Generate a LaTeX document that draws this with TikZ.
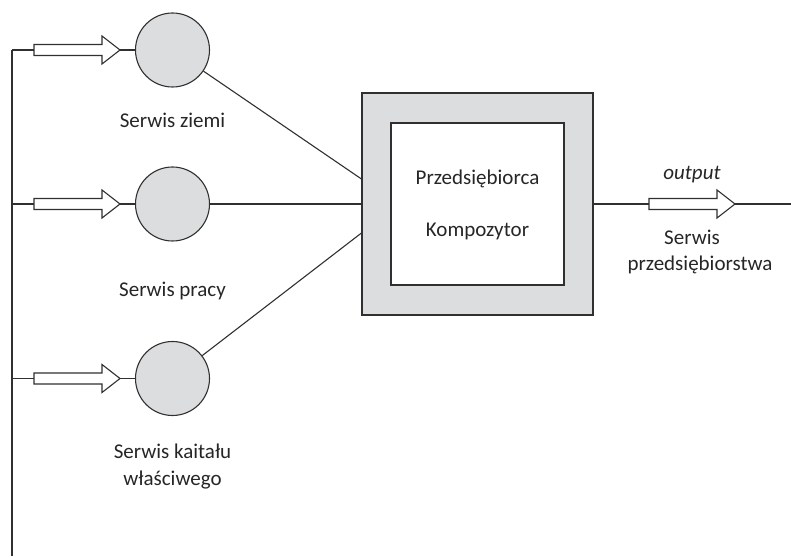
\documentclass[tikz,border=0pt]{standalone}
\usepackage{fontspec}
\setmainfont{Carlito}
\usetikzlibrary{calc}
\definecolor{lgray}{HTML}{DCDDDF}
\definecolor{dline}{HTML}{303030}
\newcommand{\blockarr}[1]{%
  \draw[barrowline] (#1) ++(0,5.5) -- ++(68,0) -- ++(0,8.5) -- ++(18,-14) -- ++(-18,-14) -- ++(0,8.5) -- ++(-68,0) -- cycle;}
\begin{document}
\begin{tikzpicture}[x=1pt,y=1pt,
  conn/.style={draw=dline, line width=1.1pt},
  barrowline/.style={draw=dline, fill=white, line width=1.1pt, line join=miter},
  svc/.style={circle, draw=dline, fill=lgray, line width=1.1pt, minimum size=74pt, inner sep=0pt},
  outerbox/.style={rectangle, draw=dline, fill=lgray, line width=1.1pt, minimum width=231pt, minimum height=222pt, inner sep=0pt},
  innerbox/.style={rectangle, draw=dline, fill=white, line width=1.1pt, minimum width=173pt, minimum height=162pt, inner sep=0pt},
  lbl/.style={font=\fontsize{21}{25}\selectfont, text=black!85, inner sep=0pt, anchor=base}
]
\useasboundingbox (0,0) rectangle (791,557);
% nodes
\node[svc] (c1) at (172.5,507) {};
\node[svc] (c2) at (172.5,353) {};
\node[svc] (c3) at (172.5,178.5) {};
\node[outerbox] (box) at (477.5,353) {};
\node[innerbox] (inner) at (477.5,353) {};
\node[lbl] (tp) at (477.5,372) {Przedsiębiorca};
\node[lbl] (tk) at (477.5,320) {Kompozytor};
\node[lbl] (l1) at (172.5,429) {Serwis ziemi};
\node[lbl] (l2) at (172.5,260) {Serwis pracy};
\node[lbl] (l3a) at (172.5,99) {Serwis kaitału};
\node[lbl] (l3b) at (172.5,72) {właściwego};
\node[lbl, font=\fontsize{21}{25}\selectfont\itshape] (out) at (692,377) {output};
\node[lbl] (o1) at (692,312) {Serwis};
\node[lbl] (o2) at (700,286) {przedsiębiorstwa};
% coordinates
\coordinate (vtop) at (12,507);
\coordinate (v2) at (12,353);
\coordinate (v3) at (12,178.5);
\coordinate (vbot) at (12,1);
\coordinate (a1s) at (34,507);
\coordinate (a1t) at (120,507);
\coordinate (a2s) at (34,353);
\coordinate (a2t) at (120,353);
\coordinate (a3s) at (34,178.5);
\coordinate (a3t) at (120,178.5);
\coordinate (aos) at (649,353);
\coordinate (aot) at (735,353);
\coordinate (oend) at (791,353);
\coordinate (b1) at ($(box.west)+(0,25)$);
\coordinate (b3) at ($(box.west)+(0,-29)$);
% connectors
\draw[conn] (vtop) -- (vbot);
\draw[conn] (vtop) -- (a1s);
\draw[conn] (v2) -- (a2s);
\draw[conn] (v3) -- (a3s);
\draw[conn] (a1t) -- (c1);
\draw[conn] (a2t) -- (c2);
\draw[conn] (a3t) -- (c3);
\blockarr{a1s}
\blockarr{a2s}
\blockarr{a3s}
\draw[conn] (c1) -- (b1);
\draw[conn] (c2) -- (box.west);
\draw[conn] (c3) -- (b3);
\draw[conn] (box.east) -- (aos);
\blockarr{aos}
\draw[conn] (aot) -- (oend);
\end{tikzpicture}
\end{document}
